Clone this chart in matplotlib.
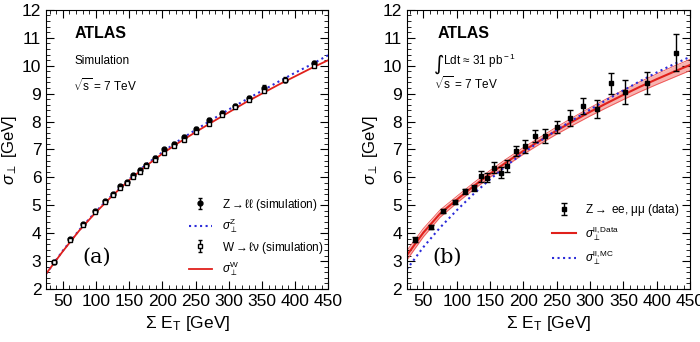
import matplotlib
matplotlib.use("Agg")
import matplotlib.pyplot as plt
import numpy as np

plt.rcParams['font.family'] = ['Liberation Sans', 'DejaVu Sans']
plt.rcParams['mathtext.fontset'] = 'custom'
plt.rcParams['mathtext.rm'] = 'Liberation Sans'
plt.rcParams['mathtext.it'] = 'Liberation Sans:italic'
plt.rcParams['mathtext.bf'] = 'Liberation Sans:bold'

# bin centres in sum E_T (GeV), same for both panels
sumet = [37, 61, 80, 98, 113, 126, 136, 146, 156, 166, 176, 189,
         203, 218, 233, 250, 270, 290, 310, 331, 353, 385, 428]

# (a) simulation points
z_sim = [2.97, 3.78, 4.32, 4.80, 5.15, 5.40, 5.68, 5.83, 6.08, 6.28, 6.45, 6.70,
         7.00, 7.20, 7.45, 7.75, 8.05, 8.32, 8.55, 8.85, 9.22, 9.50, 10.08]
z_sim_err = [0.04, 0.04, 0.04, 0.04, 0.04, 0.04, 0.05, 0.05, 0.05, 0.05, 0.05, 0.05,
             0.05, 0.05, 0.06, 0.06, 0.07, 0.07, 0.07, 0.08, 0.10, 0.08, 0.09]
w_sim = [2.97, 3.75, 4.30, 4.77, 5.12, 5.38, 5.62, 5.80, 6.00, 6.20, 6.40, 6.62,
         6.88, 7.12, 7.35, 7.62, 7.92, 8.22, 8.52, 8.78, 9.08, 9.50, 10.00]
w_sim_err = [0.03] * 23

# fitted curves
curve_x = [25, 50, 75, 100, 125, 150, 175, 200, 225, 250, 275, 300,
           325, 350, 375, 400, 425, 450]
sigma_z = [2.55, 3.37, 4.12, 4.78, 5.38, 5.93, 6.45, 6.90, 7.32, 7.70, 8.07, 8.43,
           8.77, 9.10, 9.43, 9.75, 10.05, 10.38]
sigma_w = [2.55, 3.35, 4.10, 4.75, 5.35, 5.90, 6.40, 6.85, 7.25, 7.62, 7.98, 8.33,
           8.68, 9.00, 9.32, 9.62, 9.92, 10.20]

# (b) data points
z_data = [3.77, 4.22, 4.81, 5.11, 5.50, 5.62, 6.04, 5.99, 6.34, 6.17, 6.41, 6.93,
          7.11, 7.48, 7.48, 7.81, 8.12, 8.55, 8.46, 9.37, 9.06, 9.38, 10.47]
z_data_err = [0.08, 0.07, 0.07, 0.08, 0.08, 0.10, 0.20, 0.15, 0.20, 0.20, 0.20, 0.18,
              0.22, 0.22, 0.25, 0.22, 0.28, 0.28, 0.32, 0.38, 0.42, 0.40, 0.65]
sigma_data = [3.20, 4.02, 4.70, 5.20, 5.68, 6.13, 6.55, 6.95, 7.32, 7.68, 8.02, 8.35,
              8.66, 8.96, 9.25, 9.52, 9.78, 10.03]
sigma_data_band = [0.17, 0.15, 0.13, 0.12, 0.12, 0.12, 0.12, 0.12, 0.12, 0.13, 0.14, 0.15,
                   0.16, 0.17, 0.18, 0.19, 0.20, 0.20]
sigma_mc = [2.70, 3.50, 4.20, 4.82, 5.40, 5.93, 6.43, 6.88, 7.30, 7.70, 8.07, 8.43,
            8.78, 9.12, 9.45, 9.76, 10.05, 10.32]


def style_axes(ax):
    ax.set_xlim(25, 450)
    ax.set_ylim(2, 12)
    ax.set_xticks(np.arange(50, 451, 50))
    ax.set_xticks(np.arange(30, 451, 10), minor=True)
    ax.set_yticks(np.arange(2, 13, 1))
    ax.set_yticks(np.arange(2, 12.01, 0.2), minor=True)
    ax.tick_params(which='both', direction='in', top=True, right=True, labelsize=12.5)
    ax.tick_params(which='major', length=6)
    ax.tick_params(which='minor', length=3)
    ax.set_xlabel(r'$\Sigma$ E$_{\rm T}$ [GeV]', fontsize=12.5)
    ax.set_ylabel(r'$\sigma_{\perp}$ [GeV]', fontsize=12, labelpad=2)


fig = plt.figure(figsize=(7, 3.42), dpi=100)
axA = fig.add_axes([0.066, 0.155, 0.403, 0.816])
axB = fig.add_axes([0.581, 0.155, 0.405, 0.816])

# panel (a)
hz = axA.errorbar(sumet, z_sim, yerr=z_sim_err, fmt='o', color='black', ms=3.5,
                  elinewidth=1, capsize=1.5, label=r'Z$\rightarrow$ℓℓ (simulation)')
lz, = axA.plot(curve_x, sigma_z, ':', color='#2b2bd9', lw=1.5, label=r'$\sigma_{\perp}^{\rm Z}$')
hw = axA.errorbar(sumet, w_sim, yerr=w_sim_err, fmt='s', color='black', mfc='white',
                  ms=3.5, elinewidth=1, capsize=1.5, label=r'W$\rightarrow$ℓν (simulation)')
lw_, = axA.plot(curve_x, sigma_w, '-', color='#e0201b', lw=1.3, label=r'$\sigma_{\perp}^{\rm W}$')
style_axes(axA)
axA.legend(handles=[hz, lz, hw, lw_], loc='lower right', bbox_to_anchor=(1.02, 0.0),
           frameon=False, fontsize=8.5, handlelength=2, labelspacing=0.35)
axA.text(68, 11.15, 'ATLAS', fontsize=11.5, fontweight='bold', va='center')
axA.text(68, 10.17, 'Simulation', fontsize=8.5, va='center')
axA.text(66, 9.3, r'$\sqrt{\rm s}$ = 7 TeV', fontsize=8.5, va='center')
axA.text(79, 3.15, '(a)', fontsize=15, family='DejaVu Serif', va='center')

# panel (b)
lo = [c - b for c, b in zip(sigma_data, sigma_data_band)]
hi = [c + b for c, b in zip(sigma_data, sigma_data_band)]
axB.fill_between(curve_x, lo, hi, color='#f7b3b0', lw=0)
axB.plot(curve_x, lo, '-', color='#f05050', lw=0.6)
axB.plot(curve_x, hi, '-', color='#f05050', lw=0.6)
ld, = axB.plot(curve_x, sigma_data, '-', color='#e0201b', lw=1.5,
               label=r'$\sigma_{\perp}^{\rm ll,Data}$')
lm, = axB.plot(curve_x, sigma_mc, ':', color='#2b2bd9', lw=1.5,
               label=r'$\sigma_{\perp}^{\rm ll,MC}$')
hd = axB.errorbar(sumet, z_data, yerr=z_data_err, fmt='s', color='black', ms=3.5,
                  elinewidth=1, capsize=2, label=r'Z$\rightarrow$ ee, μμ (data)')
style_axes(axB)
axB.legend(handles=[hd, ld, lm], loc='lower right', bbox_to_anchor=(1.0, 0.04),
           frameon=False, fontsize=8.5, handlelength=2, labelspacing=0.5)
axB.text(72, 11.15, 'ATLAS', fontsize=11.5, fontweight='bold', va='center')
axB.text(66, 10.05, '∫', fontsize=14.5, family='DejaVu Sans', va='center')
axB.text(80, 10.17, r'Ldt ≈ 31 pb$^{\rm -1}$', fontsize=8.5, va='center')
axB.text(66, 9.36, r'$\sqrt{\rm s}$ = 7 TeV', fontsize=8.5, va='center')
axB.text(63, 3.15, '(b)', fontsize=15, family='DejaVu Serif', va='center')

fig.savefig('out.png', dpi=100)
plt.close()
